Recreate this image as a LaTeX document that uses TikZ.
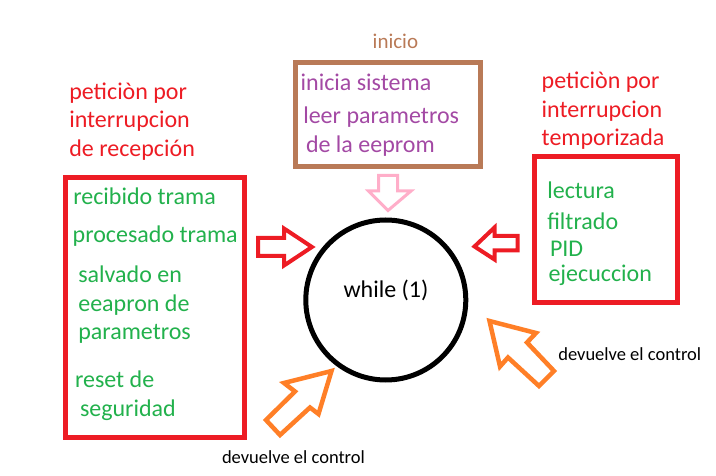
\documentclass[tikz,border=0pt]{standalone}
\usepackage{fontspec}
\setmainfont{Carlito}
\definecolor{pred}{HTML}{ED1C24}
\definecolor{pgreen}{HTML}{22B14C}
\definecolor{ppurple}{HTML}{A349A4}
\definecolor{pbrown}{HTML}{B97A57}
\definecolor{ppink}{HTML}{FFAEC9}
\definecolor{porange}{HTML}{FF7F27}
\begin{document}
\begin{tikzpicture}[x=1pt,y=-1pt,
  txt/.style={inner sep=0pt,outer sep=0pt,anchor=base west},
  title/.style={txt,text=pred,font=\fontsize{24}{28}\selectfont},
  item/.style={txt,text=pgreen,font=\fontsize{24}{28}\selectfont},
  init/.style={txt,text=ppurple,font=\fontsize{24}{28}\selectfont},
  note/.style={txt,text=black,font=\fontsize{18.5}{22}\selectfont},
  frame/.style={line width=5pt},
  blockarrow/.style={line width=4pt,line join=miter,fill=white}]
\useasboundingbox (0,0) rectangle (716,476);

% top box
\node[txt,text=pbrown,font=\fontsize{21}{25}\selectfont] (inicio) at (372.7,48.3) {inicio};
\draw[frame,draw=pbrown] (295.2,62.5) rectangle (480.8,166.8);
\node[init] (i1) at (300.7,90.7) {inicia sistema};
\node[init] (i2) at (303.3,124) {leer parametros};
\node[init] (i3) at (306,152.3) {de la eeprom};

% left
\node[title] (l1) at (69.3,99.3) {peticiòn por};
\node[title] (l2) at (69.3,128) {interrupcion};
\node[title] (l3) at (69.3,157) {de recepción};
\draw[frame,draw=pred] (65.8,177.5) rectangle (244.8,437.5);
\node[item] (a1) at (73.3,205) {recibido trama};
\node[item] (a2) at (72.7,243) {procesado trama};
\node[item] (a3) at (78.3,282.7) {salvado en};
\node[item] (a4) at (78.3,311.7) {eeapron de};
\node[item] (a5) at (78.3,340) {parametros};
\node[item] (a6) at (75,388) {reset de};
\node[item] (a7) at (80,416.7) {seguridad};

% right
\node[title] (r1) at (541.7,88.3) {peticiòn por};
\node[title] (r2) at (541.7,117.3) {interrupcion};
\node[title] (r3) at (541.7,146) {temporizada};
\draw[frame,draw=pred] (534.2,156.8) rectangle (677.5,302.5);
\node[item] (b1) at (547.3,198.3) {lectura};
\node[item] (b2) at (547.3,229.3) {filtrado};
\node[item] (b3) at (550,256.7) {PID};
\node[item] (b4) at (548.5,281.7) {ejecuccion};

% circle
\draw[line width=5pt] (385.8,300) circle[radius=80];
\node[txt,anchor=center,font=\fontsize{24}{28}\selectfont] (w) at (386,290) {while (1)};

% pink arrow down
\draw[blockarrow,draw=ppink,line width=3pt] (378.5,175.5) -- (397.5,175.5) -- (397.5,191) -- (411,191)
  -- (388,210.5) -- (368.5,191) -- (378.5,191) -- cycle;

% red arrow right
\draw[blockarrow,draw=pred] (258,238) -- (284,238) -- (284,228.5) -- (312,247) -- (284,265.5)
  -- (284,256) -- (258,256) -- cycle;

% red arrow left
\draw[blockarrow,draw=pred] (517.5,236) -- (494.5,236) -- (494.5,227.5) -- (474.5,246.5) -- (494.5,259.5)
  -- (494.5,250.5) -- (517.5,250.5) -- cycle;

% orange arrow bottom-left
\draw[blockarrow,draw=porange,line width=4.5pt] (331.5,371) -- (318.5,414) -- (310,407.5) -- (280,435)
  -- (266,420) -- (295,391.5) -- (284,383) -- cycle;

% orange arrow right
\draw[blockarrow,draw=porange,line width=4.5pt] (489.5,321) -- (536,333) -- (527,342.5) -- (554,371)
  -- (539,386) -- (508,357.5) -- (500,366.5) -- cycle;

\node[note] (n1) at (558.3,360) {devuelve el control};
\node[note] (n2) at (222,463.3) {devuelve el control};
\end{tikzpicture}
\end{document}
